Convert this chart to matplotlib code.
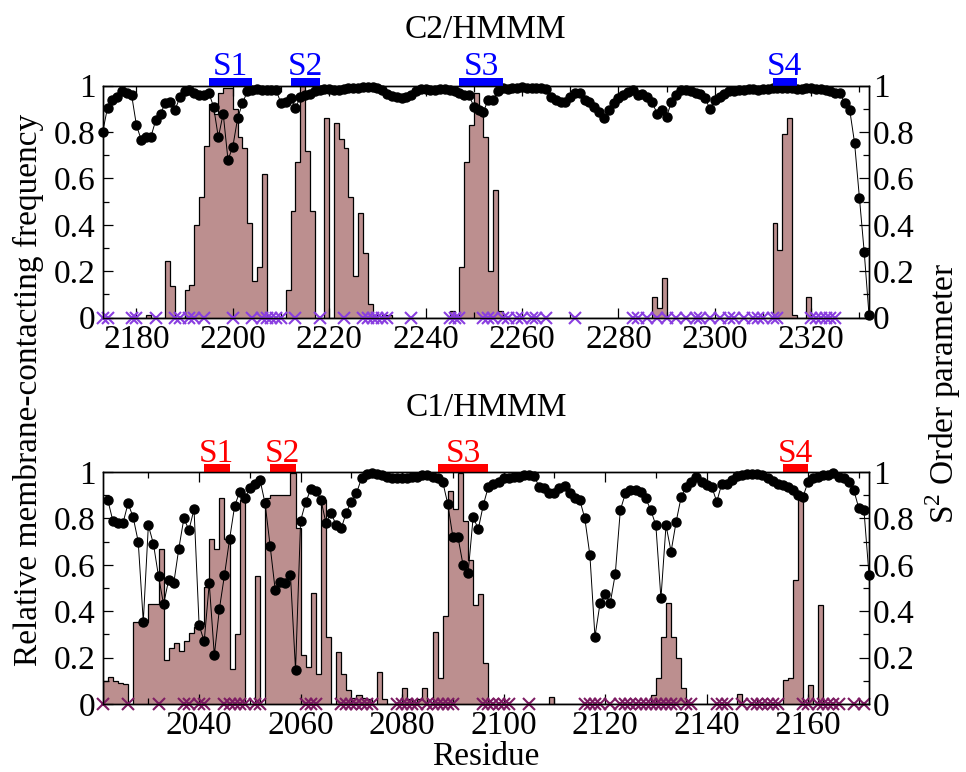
import numpy as np
import matplotlib
matplotlib.use("agg")
import matplotlib.pyplot as plt
from matplotlib.ticker import MultipleLocator, FuncFormatter

plt.rcParams['font.family'] = ['Liberation Serif', 'DejaVu Serif']
plt.rcParams['mathtext.fontset'] = 'custom'
plt.rcParams['mathtext.rm'] = 'Liberation Serif'

# ---- C2/HMMM (top) ----
c2_xlim = (2173, 2332)
c2_res = np.arange(2173, 2333)
c2_s2 = [0.80, 0.905, 0.94, 0.95, 0.975, 0.967, 0.96, 0.83, 0.766, 0.78,
         0.78, 0.85, 0.88, 0.925, 0.93, 0.895, 0.95, 0.975, 0.98, 0.97,
         0.96, 0.96, 0.97, 0.91, 0.777, 0.88, 0.68, 0.737, 0.86, 0.924,
         0.975, 0.98, 0.985, 0.98, 0.98, 0.98, 0.98, 0.924, 0.93, 0.945,
         0.905, 0.95, 0.96, 0.965, 0.975, 0.98, 0.985, 0.985, 0.98, 0.98,
         0.985, 0.99, 0.99, 0.99, 0.995, 0.995, 0.995, 0.99, 0.98, 0.965,
         0.955, 0.95, 0.945, 0.95, 0.96, 0.975, 0.985, 0.985, 0.98, 0.98,
         0.985, 0.985, 0.98, 0.975, 0.97, 0.96, 0.96, 0.91, 0.895, 0.888,
         0.94, 0.94, 0.975, 0.99, 0.985, 0.99, 0.99, 0.995, 0.99, 0.99,
         0.99, 0.99, 0.985, 0.95, 0.94, 0.93, 0.93, 0.95, 0.967, 0.967,
         0.94, 0.93, 0.91, 0.888, 0.86, 0.895, 0.924, 0.945, 0.96, 0.974,
         0.98, 0.96, 0.965, 0.95, 0.93, 0.88, 0.895, 0.866, 0.93, 0.96,
         0.98, 0.98, 0.975, 0.97, 0.965, 0.945, 0.90, 0.94, 0.95, 0.965,
         0.975, 0.975, 0.98, 0.98, 0.985, 0.985, 0.98, 0.985, 0.985, 0.99,
         0.99, 0.99, 0.99, 0.99, 0.985, 0.985, 0.99, 0.99, 0.985, 0.985,
         0.98, 0.975, 0.97, 0.967, 0.924, 0.895, 0.754, 0.517, 0.284, 0.012]
c2_contact_res = [2182, 2186, 2187, 2190, 2191, 2192, 2193, 2194, 2195, 2196,
                  2197, 2198, 2199, 2200, 2201, 2202, 2203, 2204, 2205, 2206,
                  2211, 2212, 2213, 2214, 2215, 2216, 2219, 2221, 2222, 2223,
                  2224, 2225, 2226, 2227, 2228, 2231, 2232, 2245, 2247, 2248,
                  2249, 2250, 2251, 2252, 2253, 2254, 2255, 2287, 2288, 2289,
                  2312, 2313, 2314, 2315, 2316, 2319]
c2_contact = [0.01, 0.244, 0.138, 0.12, 0.14, 0.40, 0.52, 0.74, 0.92, 0.88,
              0.97, 0.99, 0.99, 0.90, 0.78, 0.73, 0.41, 0.16, 0.22, 0.62,
              0.12, 0.46, 0.67, 1.0, 0.72, 0.46, 0.86, 0.84, 0.77, 0.73,
              0.52, 0.18, 0.45, 0.28, 0.06, 0.01, 0.01, 0.03, 0.22, 0.67,
              0.83, 0.97, 0.89, 0.78, 0.20, 0.55, 0.03, 0.09, 0.04, 0.17,
              0.41, 0.29, 0.79, 0.86, 0.01, 0.09]
c2_cross = [2173, 2174, 2179, 2180, 2184, 2188, 2189, 2191, 2192, 2194,
            2200, 2204, 2206, 2207, 2208, 2209, 2210, 2213, 2218, 2223,
            2227, 2228, 2229, 2230, 2231, 2232, 2237, 2245, 2246, 2247,
            2252, 2253, 2254, 2256, 2257, 2259, 2260, 2262, 2263, 2265,
            2271, 2283, 2284, 2286, 2288, 2290, 2292, 2294, 2296, 2297,
            2299, 2301, 2303, 2304, 2306, 2308, 2309, 2310, 2312, 2313,
            2320, 2321, 2322, 2323, 2324, 2325]
c2_segments = [(2195, 2204), (2212, 2218), (2247, 2256), (2312, 2317)]

# ---- C1/HMMM (bottom) ----
c1_xlim = (2021, 2172)
c1_res = np.arange(2022, 2173)
c1_s2 = [0.88, 0.79, 0.78, 0.78, 0.865, 0.805, 0.70, 0.355, 0.77, 0.69,
         0.55, 0.43, 0.535, 0.52, 0.67, 0.80, 0.75, 0.84, 0.34, 0.27,
         0.52, 0.21, 0.41, 0.556, 0.71, 0.853, 0.915, 0.886, 0.93, 0.95,
         0.966, 0.865, 0.68, 0.49, 0.527, 0.52, 0.556, 0.147, 0.79, 0.87,
         0.925, 0.92, 0.88, 0.78, 0.825, 0.77, 0.757, 0.825, 0.872, 0.908,
         0.973, 0.99, 0.995, 0.99, 0.985, 0.98, 0.975, 0.975, 0.975, 0.975,
         0.98, 0.98, 0.985, 0.985, 0.98, 0.975, 0.958, 0.862, 0.72, 0.72,
         0.60, 0.563, 0.807, 0.753, 0.858, 0.937, 0.95, 0.958, 0.973, 0.973,
         0.98, 0.98, 0.987, 0.987, 0.983, 0.937, 0.93, 0.908, 0.908, 0.93,
         0.94, 0.908, 0.886, 0.88, 0.80, 0.642, 0.29, 0.434, 0.474, 0.434,
         0.56, 0.836, 0.908, 0.922, 0.922, 0.915, 0.886, 0.836, 0.77, 0.455,
         0.77, 0.657, 0.786, 0.894, 0.937, 0.958, 0.977, 0.958, 0.944, 0.937,
         0.872, 0.95, 0.95, 0.966, 0.983, 0.987, 0.99, 0.99, 0.99, 0.985,
         0.975, 0.96, 0.95, 0.944, 0.937, 0.922, 0.90, 0.894, 0.958, 0.973,
         0.98, 0.987, 0.987, 0.994, 0.98, 0.973, 0.958, 0.922, 0.843, 0.836,
         0.556]
c1_contact_res = [2021, 2022, 2023, 2024, 2025, 2027, 2028, 2029, 2030, 2031,
                  2032, 2033, 2034, 2035, 2036, 2037, 2038, 2039, 2040, 2041,
                  2042, 2043, 2044, 2045, 2046, 2047, 2048, 2051, 2053, 2054,
                  2055, 2056, 2057, 2058, 2059, 2060, 2061, 2062, 2063, 2064,
                  2065, 2067, 2068, 2069, 2070, 2071, 2072, 2073, 2075, 2076,
                  2079, 2080, 2081, 2082, 2083, 2084, 2086, 2087, 2088, 2089,
                  2090, 2091, 2092, 2093, 2094, 2095, 2096, 2109, 2129, 2130,
                  2131, 2132, 2133, 2134, 2135, 2136, 2146, 2155, 2156, 2157,
                  2158, 2160, 2162]
c1_contact = [0.10, 0.115, 0.10, 0.09, 0.085, 0.355, 0.355, 0.355, 0.43, 0.43,
              0.67, 0.19, 0.24, 0.265, 0.23, 0.27, 0.305, 0.33, 0.345, 0.505,
              0.71, 0.67, 0.89, 0.71, 0.15, 0.30, 0.88, 0.55, 0.89, 0.90,
              0.90, 0.90, 0.90, 0.995, 0.76, 0.21, 0.16, 0.48, 0.13, 0.88,
              0.29, 0.225, 0.13, 0.06, 0.025, 0.04, 0.025, 0.02, 0.14, 0.02,
              0.01, 0.07, 0.02, 0.01, 0.02, 0.07, 0.31, 0.11, 0.38, 0.92,
              0.84, 0.995, 0.79, 0.62, 0.427, 0.474, 0.175, 0.03, 0.04, 0.11,
              0.29, 0.434, 0.29, 0.197, 0.068, 0.01, 0.043, 0.103, 0.11, 0.535,
              0.88, 0.082, 0.427]
c1_cross = [2021, 2026, 2032, 2037, 2038, 2040, 2041, 2045, 2046, 2047,
            2048, 2049, 2051, 2052, 2061, 2062, 2063, 2068, 2069, 2070,
            2071, 2072, 2073, 2074, 2079, 2080, 2081, 2082, 2083, 2085,
            2086, 2087, 2088, 2089, 2090, 2096, 2097, 2098, 2099, 2100,
            2101, 2105, 2116, 2117, 2118, 2119, 2121, 2123, 2124, 2125,
            2126, 2127, 2128, 2129, 2130, 2131, 2132, 2133, 2134, 2136,
            2137, 2142, 2143, 2144, 2147, 2149, 2150, 2151, 2152, 2153,
            2154, 2159, 2160, 2162, 2163, 2164, 2165, 2166, 2169, 2171]
c1_segments = [(2041, 2046), (2054, 2059), (2087, 2097), (2155, 2160)]

seg_labels = ['S1', 'S2', 'S3', 'S4']
FS = 24


def draw_panel(ax, xlim, res, s2, bar_res, bar_val, cross, segs, seg_color, cross_color):
    edges = np.arange(xlim[0], xlim[1] + 1)
    freq = np.zeros(len(edges) - 1)
    for r, v in zip(bar_res, bar_val):
        freq[r - xlim[0]] = v
    ax.stairs(freq, edges, fill=True, facecolor='#bc8f8f', linewidth=0, zorder=1)
    ax.stairs(freq, edges, color='black', linewidth=0.9, baseline=0, zorder=2)
    ax.plot(res, s2, '-', color='black', lw=0.7, marker='o', ms=6.5,
            mfc='black', mec='black', zorder=3, clip_on=False)
    ax.plot(cross, np.zeros(len(cross)), 'x', color=cross_color, ms=8.5, mew=1.5,
            clip_on=False, zorder=4)
    for (a, b), lab in zip(segs, seg_labels):
        ax.bar(a, 0.033, width=b - a, bottom=1.0, align='edge', color=seg_color,
               clip_on=False, zorder=5)
        ax.text((a + b) / 2, 1.045, lab, color=seg_color, ha='center', va='baseline',
                fontsize=FS, clip_on=False)

    ax.set_xlim(xlim)
    ax.set_ylim(0, 1)
    ax.xaxis.set_major_locator(MultipleLocator(20))
    ax.xaxis.set_minor_locator(MultipleLocator(10))
    ax.yaxis.set_major_locator(MultipleLocator(0.2))
    ax.yaxis.set_minor_locator(MultipleLocator(0.1))
    fmt = FuncFormatter(lambda v, p: '%g' % round(v, 1))
    ax.yaxis.set_major_formatter(fmt)
    ax.tick_params(which='both', direction='in', top=True, right=True, labelsize=FS)
    ax.tick_params(which='major', length=7, width=0.9)
    ax.tick_params(which='minor', length=4, width=0.9)
    ax.tick_params(axis='y', pad=5)
    ax.tick_params(axis='x', pad=5)
    for s in ax.spines.values():
        s.set_linewidth(1.0)

    ax2 = ax.twinx()
    ax2.set_ylim(0, 1)
    ax2.yaxis.set_major_locator(MultipleLocator(0.2))
    ax2.yaxis.set_minor_locator(MultipleLocator(0.1))
    ax2.yaxis.set_major_formatter(fmt)
    ax2.tick_params(which='both', direction='in', labelsize=FS, pad=3)
    ax2.tick_params(which='major', length=7, width=0.9)
    ax2.tick_params(which='minor', length=4, width=0.9)
    for s in ax2.spines.values():
        s.set_linewidth(1.0)


fig = plt.figure(figsize=(9.66, 7.72), dpi=100)
ax_top = fig.add_axes([0.1063, 0.5885, 0.7933, 0.3005])
ax_bot = fig.add_axes([0.1063, 0.0881, 0.7933, 0.3005])

draw_panel(ax_top, c2_xlim, c2_res, c2_s2, c2_contact_res, c2_contact, c2_cross,
           c2_segments, '#0000ff', '#8a3ee0')
draw_panel(ax_bot, c1_xlim, c1_res, c1_s2, c1_contact_res, c1_contact, c1_cross,
           c1_segments, '#ff0000', '#7d1b63')

fig.text(0.503, 0.961, 'C2/HMMM', ha='center', va='center', fontsize=FS)
fig.text(0.503, 0.4715, 'C1/HMMM', ha='center', va='center', fontsize=FS)
fig.text(0.503, 0.02, 'Residue', ha='center', va='center', fontsize=FS)
fig.text(0.029, 0.495, 'Relative membrane-contacting frequency', rotation=90,
         ha='center', va='center', fontsize=FS)
fig.text(0.976, 0.49, 'S$^2$ Order parameter', rotation=90,
         ha='center', va='center', fontsize=FS)

fig.savefig('out.png', dpi=100)
plt.close(fig)
